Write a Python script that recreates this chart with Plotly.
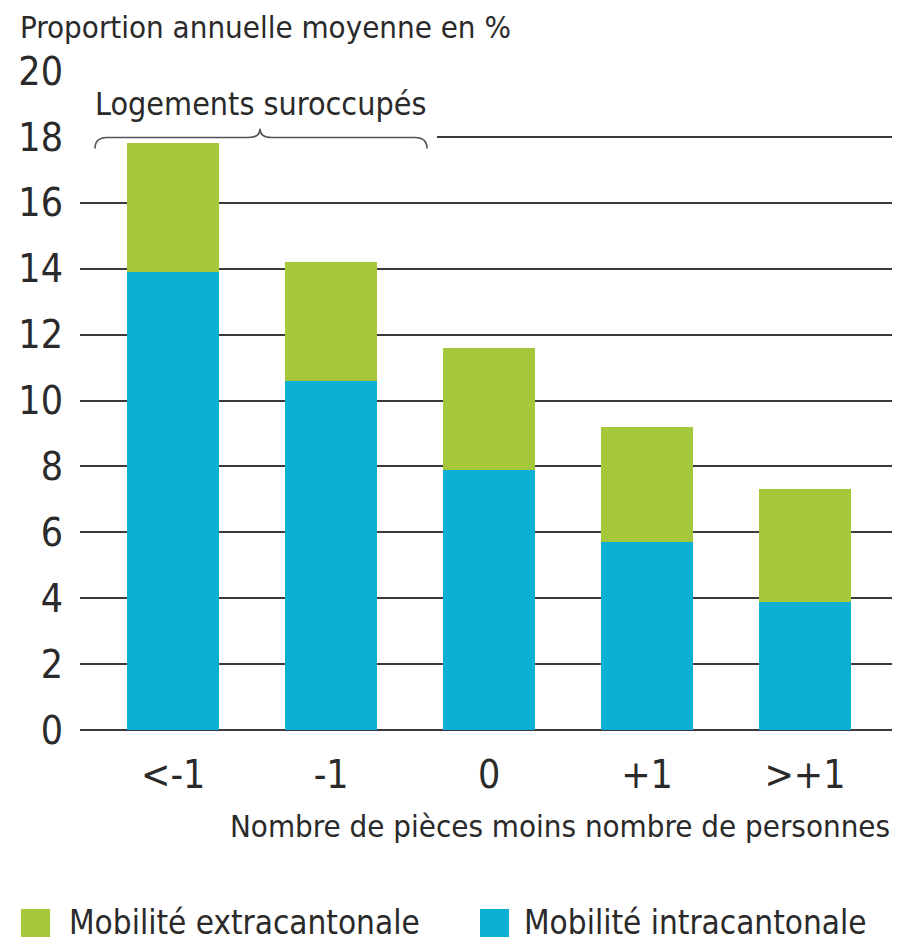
import plotly.graph_objects as go

categories = ["<-1", "-1", "0", "+1", ">+1"]
intra = [13.9, 10.6, 7.9, 5.7, 3.9]
total = [17.8, 14.2, 11.6, 9.2, 7.3]
extra = [round(t - i, 2) for t, i in zip(total, intra)]
y_ticks = [0, 2, 4, 6, 8, 10, 12, 14, 16, 18, 20]

GREEN = "#A4C83A"
BLUE = "#0BB0D4"
TXT = "#2a2a2a"
GRID = "#3a3a3a"
FONT = "DejaVu Sans Condensed, Liberation Sans Narrow, sans-serif"

fig = go.Figure()
fig.add_trace(go.Bar(x=categories, y=intra, name="Mobilité intracantonale",
                     marker=dict(color=BLUE, line=dict(width=0)), showlegend=False))
fig.add_trace(go.Bar(x=categories, y=extra, name="Mobilité extracantonale",
                     marker=dict(color=GREEN, line=dict(width=0)), showlegend=False))

OFF = 8  # page body margin
W, H = 900 - OFF, 944 - OFF
L, T = 80 - OFF, 71 - OFF
plot_right, plot_bottom = 895 - OFF, 730 - OFF
R, B = W - plot_right, H - plot_bottom
pw = plot_right - L
ph = plot_bottom - T

def px2paper_x(px):
    return (px - OFF - L) / pw

def px2paper_y(py):
    return (plot_bottom - (py - OFF)) / ph

fig.update_layout(
    width=W, height=H,
    margin=dict(l=L, r=R, t=T, b=B, pad=0),
    barmode="stack", bargap=0.42,
    plot_bgcolor="white", paper_bgcolor="white",
    font=dict(family=FONT, color=TXT, size=32),
    xaxis=dict(range=[-0.59, 4.57], showgrid=False, showline=False, zeroline=False,
               ticks="", tickfont=dict(size=39, color=TXT), ticklabelstandoff=18),
    yaxis=dict(range=[0, 20], tickvals=y_ticks, showgrid=True, gridcolor=GRID, gridwidth=2,
               zeroline=True, zerolinecolor=GRID, zerolinewidth=2, showline=False,
               ticks="", tickfont=dict(size=39, color=TXT), ticklabelstandoff=16),
)

# Title of y axis
fig.add_annotation(text="Proportion annuelle moyenne en %", xref="paper", yref="paper",
                   x=px2paper_x(18), y=px2paper_y(27), xanchor="left", yanchor="middle",
                   showarrow=False, font=dict(size=31, color=TXT))
# x axis title
fig.add_annotation(text="Nombre de pièces moins nombre de personnes", xref="paper", yref="paper",
                   x=px2paper_x(892), y=px2paper_y(826), xanchor="right", yanchor="middle",
                   showarrow=False, font=dict(size=31, color=TXT))

# Brace group
fig.add_shape(type="rect", xref="paper", yref="y", x0=0, x1=px2paper_x(437), y0=17.9, y1=18.1,
              fillcolor="white", line=dict(width=0), layer="above")
x0, x1, pk = px2paper_x(95), px2paper_x(427), px2paper_x(260)
dx = px2paper_x(107) - px2paper_x(95)
path = (f"M {x0},17.65 Q {x0},17.98 {x0+dx},17.98 L {pk-dx},17.98 Q {pk},17.98 {pk},18.25 "
        f"Q {pk},17.98 {pk+dx},17.98 L {x1-dx},17.98 Q {x1},17.98 {x1},17.65")
fig.add_shape(type="path", xref="paper", yref="y", path=path,
              line=dict(color="#555555", width=1.6), layer="above")
fig.add_annotation(text="Logements suroccupés", xref="paper", yref="y",
                   x=pk, y=19.0, xanchor="center", yanchor="middle",
                   showarrow=False, font=dict(size=32, color=TXT))

# Legend (drawn manually)
legend_items = [("Mobilité extracantonale", GREEN, 21, 67), ("Mobilité intracantonale", BLUE, 480, 522)]
for label, col, sx, tx in legend_items:
    fig.add_shape(type="rect", xref="paper", yref="paper",
                  x0=px2paper_x(sx), x1=px2paper_x(sx + 29), y0=px2paper_y(937), y1=px2paper_y(909),
                  fillcolor=col, line=dict(width=0))
    fig.add_annotation(text=label, xref="paper", yref="paper", x=px2paper_x(tx), y=px2paper_y(922),
                       xanchor="left", yanchor="middle", showarrow=False, font=dict(size=33, color=TXT))

fig.write_html("out.html")
